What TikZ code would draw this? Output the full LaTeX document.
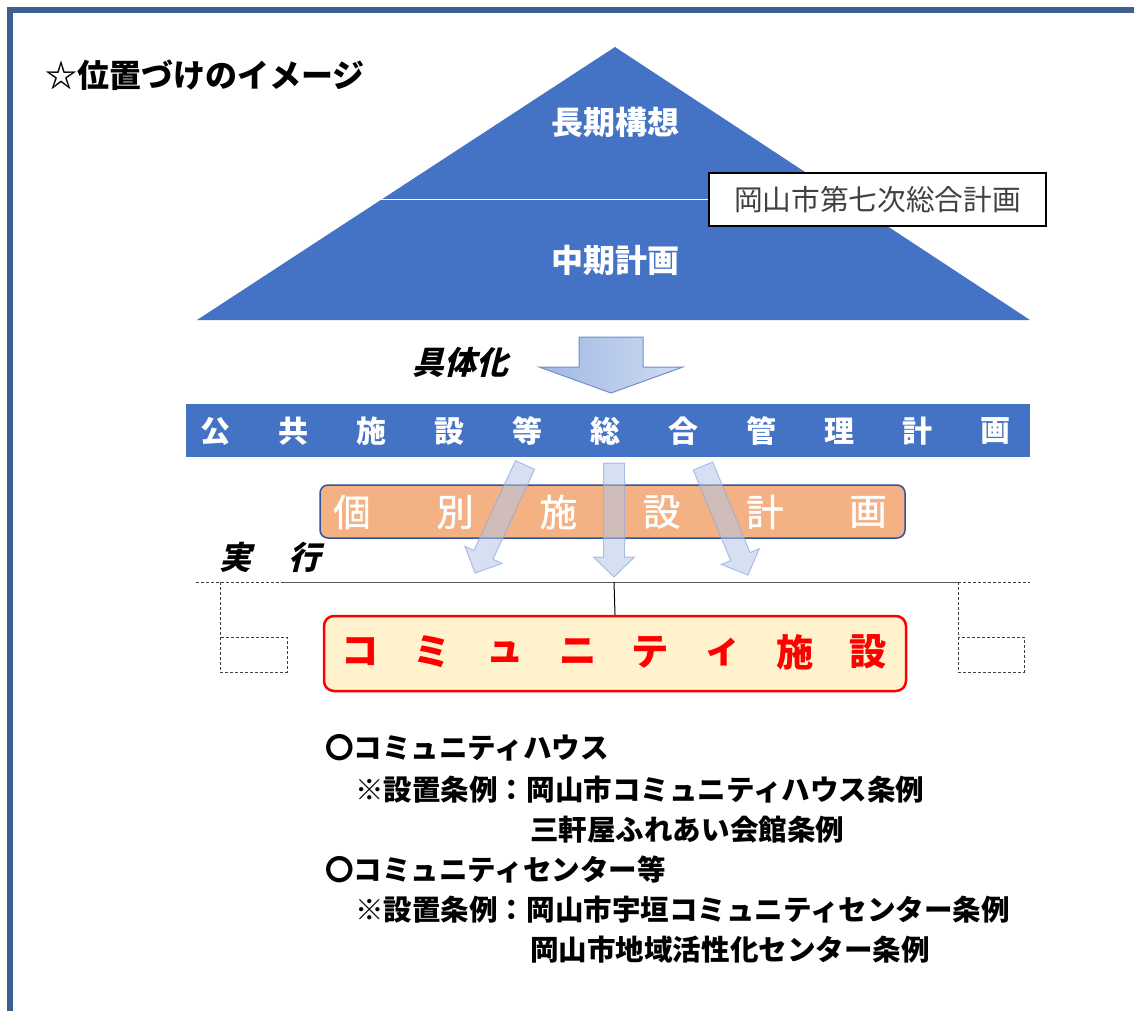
\documentclass[tikz,border=0pt]{standalone}
\usepackage{fontspec}
\setmainfont{Noto Sans CJK JP}
\newfontfamily\jpslant{Noto Sans CJK JP}[FakeSlant=0.25]
\newfontfamily\jpthick{Noto Sans CJK JP}[FakeBold=1.2]
\newlength{\du}
\setlength{\du}{0.75pt}

\begin{document}
\begin{tikzpicture}[
  chr/.style={inner sep=0pt, anchor=center},
  listtext/.style={anchor=west, inner sep=0pt, font=\fontsize{21.4pt}{24pt}\selectfont\bfseries},
  thinarrow/.style={fill=arrowfill, fill opacity=0.55, draw=arrowline, draw opacity=0.7, line width=1\du},
  guide/.style={draw=guidegray, line width=1\du, dash pattern=on 3\du off 2\du}
]
\pgftransformxscale{1.000000}
\pgftransformyscale{-1.000000}
\definecolor{mainblue}{rgb}{0.267, 0.447, 0.769}
\definecolor{framecolor}{rgb}{0.235, 0.376, 0.565}
\definecolor{textgray}{rgb}{0.250, 0.250, 0.250}
\definecolor{boxblue}{rgb}{0.184, 0.333, 0.592}
\definecolor{orangefill}{rgb}{0.957, 0.694, 0.514}
\definecolor{cream}{rgb}{1.000, 0.949, 0.800}
\definecolor{arrowfill}{rgb}{0.706, 0.780, 0.906}
\definecolor{arrowline}{rgb}{0.561, 0.667, 0.863}
\definecolor{bigleft}{rgb}{0.624, 0.722, 0.890}
\definecolor{bigright}{rgb}{0.816, 0.863, 0.949}
\definecolor{bigline}{rgb}{0.435, 0.561, 0.812}
\definecolor{linegray}{rgb}{0.350, 0.350, 0.350}
\definecolor{guidegray}{rgb}{0.250, 0.250, 0.250}

\useasboundingbox (0\du,0\du) rectangle (1134\du,1010\du);
\draw[framecolor, line width=6\du] (9.5\du,9.5\du) rectangle (1160\du,1040\du);

\node[anchor=west, inner sep=0pt, font=\fontsize{24pt}{28pt}\selectfont\bfseries] (title) at (45\du,75\du) {☆位置づけのイメージ};

% pyramid
\fill[mainblue] (615\du,47\du)--(1030\du,320\du)--(197\du,320\du)--cycle;
\node[draw=black, line width=1.5\du, fill=white, minimum width=337\du, minimum height=53\du, text=textgray, font=\fontsize{21.5pt}{24pt}\selectfont] (plan7) at (877.5\du,199.5\du) {岡山市第七次総合計画};
\coordinate (edge) at (379\du,199.5\du);
\draw[white, line width=1.5\du] (edge)--(plan7.west);
\node[text=white, font=\fontsize{24pt}{28pt}\selectfont\bfseries] (long) at (615\du,122\du) {長期構想};
\node[text=white, font=\fontsize{24pt}{28pt}\selectfont\bfseries] (mid) at (615\du,260\du) {中期計画};

% gutaika
\shade[left color=bigleft, right color=bigright, draw=bigline, line width=1\du] (579\du,337\du)--(643\du,337\du)--(643\du,367\du)--(683\du,367\du)--(611\du,393\du)--(539\du,367\du)--(579\du,367\du)--cycle;
\node[font=\jpslant\fontsize{24pt}{28pt}\selectfont\bfseries] (gutai) at (460\du,362\du) {具体化};

\node[fill=mainblue, minimum width=844\du, minimum height=53\du, inner sep=0pt] (bar) at (608\du,430.5\du) {};
\foreach \c [count=\i from 0] in {公,共,施,設,等,総,合,管,理,計,画}
  \node[chr, text=white, font=\fontsize{22.5pt}{26pt}\selectfont\bfseries] (bar\i) at ({(215+78*\i)*\du},431\du) {\c};

\node[draw=boxblue, line width=1.5\du, fill=orangefill, rounded corners=8\du, minimum width=585\du, minimum height=53\du] (kobetsu) at (612.5\du,511.5\du) {};
\foreach \c [count=\i from 0] in {個,別,施,設,計,画}
  \node[chr, text=white, font=\jpthick\fontsize{28pt}{32pt}\selectfont] (kob\i) at ({(352+103.2*\i)*\du},512\du) {\c};

\begin{scope}[shift={(525\du,465\du)}, rotate=24.8]
\filldraw[thinarrow] (-10.5\du,0\du)--(10.5\du,0\du)--(10.5\du,99\du)--(20.5\du,99\du)--(0\du,119\du)--(-20.5\du,99\du)--(-10.5\du,99\du)--cycle;
\end{scope}
\begin{scope}[shift={(614\du,463\du)}]
\filldraw[thinarrow] (-10.5\du,0\du)--(10.5\du,0\du)--(10.5\du,94\du)--(20.5\du,94\du)--(0\du,114\du)--(-20.5\du,94\du)--(-10.5\du,94\du)--cycle;
\end{scope}
\begin{scope}[shift={(703\du,466\du)}, rotate=-22.4]
\filldraw[thinarrow] (-10.5\du,0\du)--(10.5\du,0\du)--(10.5\du,98\du)--(20.5\du,98\du)--(0\du,118\du)--(-20.5\du,98\du)--(-10.5\du,98\du)--cycle;
\end{scope}

\node[font=\jpslant\fontsize{24pt}{28pt}\selectfont\bfseries] (jikko) at (270\du,557\du) {実\hspace{38\du}行};

\draw[guide] (196\du,582\du)--(283\du,582\du);
\draw[linegray, line width=1\du] (283\du,582\du)--(958\du,582\du);
\draw[guide] (958\du,582\du)--(1030\du,582\du);
\draw[guide] (220\du,582\du)--(220\du,672\du);
\draw[guide] (220\du,637\du) rectangle (287\du,672\du);
\draw[guide] (958\du,582\du)--(958\du,672\du);
\draw[guide] (958\du,637\du) rectangle (1024\du,672\du);

\node[draw=red, line width=2.5\du, fill=cream, rounded corners=10\du, minimum width=582\du, minimum height=75\du] (comm) at (615\du,653.5\du) {};
\foreach \c [count=\i from 0] in {コ,ミ,ュ,ニ,テ,ィ,施,設}
  \node[chr, text=red, font=\fontsize{28pt}{32pt}\selectfont\bfseries] (comm\i) at ({(360+72.6*\i)*\du},652\du) {\c};
\coordinate (junc) at (614\du,582\du);
\draw[black, line width=1\du] (junc)--(comm.north);

\node[listtext] (house) at (325\du,748\du) {〇コミュニティハウス};
\node[listtext] (houserule) at (355\du,790\du) {※設置条例：岡山市コミュニティハウス条例};
\node[listtext] (houserule2) at (530\du,830\du) {三軒屋ふれあい会館条例};
\node[listtext] (center) at (325\du,870\du) {〇コミュニティセンター等};
\node[listtext] (centerrule) at (355\du,910\du) {※設置条例：岡山市宇垣コミュニティセンター条例};
\node[listtext] (centerrule2) at (530\du,950\du) {岡山市地域活性化センター条例};
\end{tikzpicture}
\end{document}
